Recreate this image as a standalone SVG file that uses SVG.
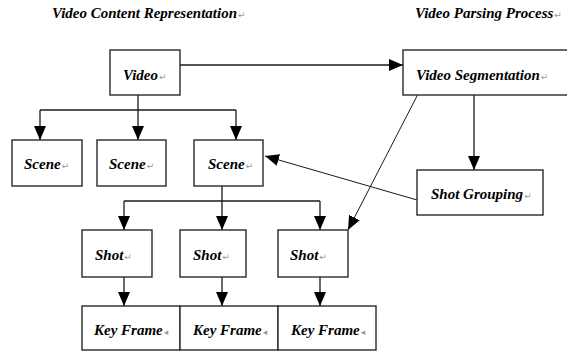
<svg xmlns="http://www.w3.org/2000/svg" width="567" height="351" viewBox="0 0 567 351">
<defs>
<marker id="ah" markerUnits="userSpaceOnUse" markerWidth="15" markerHeight="13" refX="14" refY="6" orient="auto">
<path d="M0,0 L14,6 L0,12 z" fill="#000"/>
</marker>
<style>
.box{fill:#fff;stroke:#2a2a2a;stroke-width:1.4}
.t{font-family:"Liberation Serif","Times New Roman",serif;font-weight:bold;font-style:italic;font-size:15px;fill:#000}
.m{font-family:"DejaVu Sans",sans-serif;font-style:normal;font-weight:normal;font-size:9px;fill:#999}
.c{fill:none;stroke:#1a1a1a;stroke-width:1.3}
.thin{fill:none;stroke:#1a1a1a;stroke-width:1}
</style>
</defs>
<rect width="567" height="351" fill="#fff"/>
<text class="t" x="52" y="18">Video Content Representation<tspan class="m" dx="1">↵</tspan></text>
<text class="t" x="415" y="18">Video Parsing Process<tspan class="m" dx="1">↵</tspan></text>
<g id="connectors">
<path class="c" d="M180,65 H403" marker-end="url(#ah)"/>
<path class="c" d="M138,95 V110"/>
<path class="c" d="M40,110 H236"/>
<path class="c" d="M40,110 V140" marker-end="url(#ah)"/>
<path class="c" d="M138,110 V140" marker-end="url(#ah)"/>
<path class="c" d="M236,110 V140" marker-end="url(#ah)"/>
<path class="c" d="M222,186 V201"/>
<path class="c" d="M124,201 H320"/>
<path class="c" d="M124,201 V230" marker-end="url(#ah)"/>
<path class="c" d="M222,201 V230" marker-end="url(#ah)"/>
<path class="c" d="M320,201 V230" marker-end="url(#ah)"/>
<path class="c" d="M124,277 V306" marker-end="url(#ah)"/>
<path class="c" d="M222,277 V306" marker-end="url(#ah)"/>
<path class="c" d="M320,277 V306" marker-end="url(#ah)"/>
<path class="c" d="M474,95 V170" marker-end="url(#ah)"/>
<path class="thin" d="M417,200 L265,156" marker-end="url(#ah)"/>
<path class="thin" d="M417.5,95 L348,230" marker-end="url(#ah)"/>
</g>
<g id="video"><rect class="box" x="110" y="50" width="70" height="45"/><text class="t" x="123" y="80">Video<tspan class="m" dx="1">↵</tspan></text></g>
<g id="video-segmentation"><rect class="box" x="403" y="50" width="180" height="45"/><text class="t" x="416" y="80">Video Segmentation<tspan class="m" dx="1">↵</tspan></text></g>
<g id="scene1"><rect class="box" x="12" y="140" width="70" height="46"/><text class="t" x="24" y="169">Scene<tspan class="m" dx="1">↵</tspan></text></g>
<g id="scene2"><rect class="box" x="97" y="140" width="69" height="46"/><text class="t" x="109" y="169">Scene<tspan class="m" dx="1">↵</tspan></text></g>
<g id="scene3"><rect class="box" x="194" y="140" width="69" height="46"/><text class="t" x="208" y="169">Scene<tspan class="m" dx="1">↵</tspan></text></g>
<g id="shot-grouping"><rect class="box" x="417" y="170" width="126" height="45"/><text class="t" x="431" y="199">Shot Grouping<tspan class="m" dx="1">↵</tspan></text></g>
<g id="shot1"><rect class="box" x="82" y="230" width="70" height="47"/><text class="t" x="95" y="260">Shot<tspan class="m" dx="1">↵</tspan></text></g>
<g id="shot2"><rect class="box" x="180" y="230" width="66" height="47"/><text class="t" x="193" y="260">Shot<tspan class="m" dx="1">↵</tspan></text></g>
<g id="shot3"><rect class="box" x="278" y="230" width="70" height="47"/><text class="t" x="290" y="260">Shot<tspan class="m" dx="1">↵</tspan></text></g>
<g id="keyframe1"><rect class="box" x="82" y="306" width="98" height="44"/><text class="t" x="94" y="335">Key Frame<tspan class="m" dx="1">◂</tspan></text></g>
<g id="keyframe2"><rect class="box" x="180" y="306" width="98" height="44"/><text class="t" x="193" y="335">Key Frame<tspan class="m" dx="1">◂</tspan></text></g>
<g id="keyframe3"><rect class="box" x="278" y="306" width="98" height="44"/><text class="t" x="291" y="335">Key Frame<tspan class="m" dx="1">◂</tspan></text></g>
</svg>
